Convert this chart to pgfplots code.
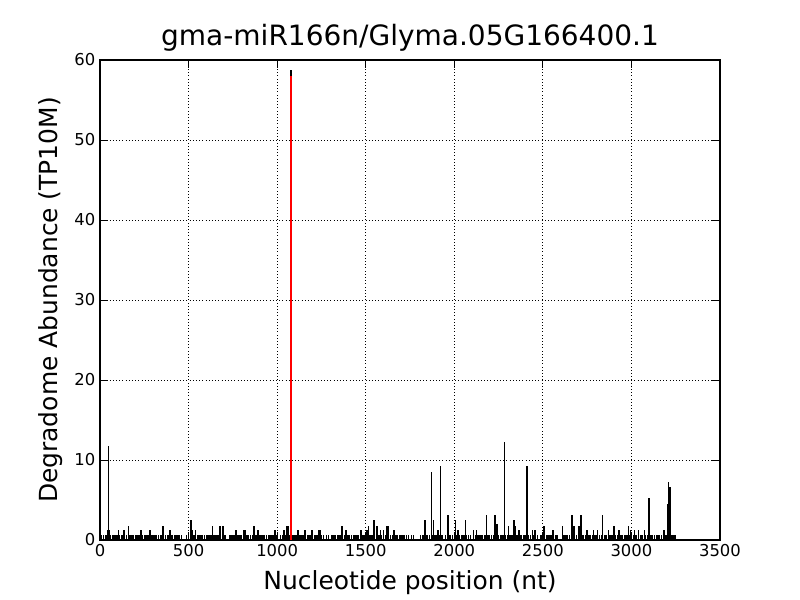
\documentclass[border=0pt]{standalone}
\usepackage{fontspec}
\setmainfont{DejaVu Sans}
\usepackage{pgfplots}
\pgfplotsset{compat=1.18}

\begin{document}
\begin{tikzpicture}
\begin{axis}[
    scale only axis,
    width=465pt, height=360pt,
    xmin=0, xmax=3500, ymin=0, ymax=60,
    xtick={0,500,...,3500}, ytick={0,10,...,60},
    /pgf/number format/assume math mode=true,
    /pgf/number format/1000 sep={},
    ticklabel style={font=\fontsize{12.3}{14}\selectfont},
    grid=major,
    grid style={dotted, black, line width=0.7pt},
    tick align=inside, tick pos=both,
    major tick length=6pt,
    tick style={black, line width=0.7pt},
    axis line style={line width=0.8pt},
    title={gma-miR166n/Glyma.05G166400.1},
    title style={font=\fontsize{21}{25}\selectfont, yshift=-3pt},
    xlabel={Nucleotide position (nt)},
    ylabel={Degradome Abundance (TP10M)},
    label style={font=\fontsize{18.7}{22}\selectfont},
    xlabel style={yshift=-3pt},
    ylabel style={yshift=2pt},
]
% baseline reads
\addplot[ycomb, black, line width=1.05pt, no marks] coordinates {
(10,0.6)(20,0.6)(30,0.6)(40,0.6)(60,0.6)(70,0.6)(80,0.6)(90,0.6)(100,0.6)(110,0.6)(120,0.6)(130,0.6)(150,0.6)(160,0.6)(170,0.6)(180,0.6)(190,0.6)(200,0.6)(210,0.6)(220,0.6)(240,0.6)(250,0.6)(260,0.6)(270,0.6)(290,0.6)(300,0.6)(310,0.6)(320,0.6)(330,0.6)(340,0.6)(350,0.6)(360,0.6)(370,0.6)(380,0.6)(390,0.6)(400,0.6)(410,0.6)(420,0.6)(430,0.6)(440,0.6)(450,0.6)(460,0.6)(490,0.6)(500,0.6)(510,0.6)(520,0.6)(530,0.6)(550,0.6)(560,0.6)(570,0.6)(580,0.6)(590,0.6)(600,0.6)(610,0.6)(620,0.6)(630,0.6)(640,0.6)(650,0.6)(660,0.6)(670,0.6)(680,0.6)(690,0.6)(700,0.6)(710,0.6)(730,0.6)(740,0.6)(750,0.6)(760,0.6)(770,0.6)(780,0.6)(790,0.6)(800,0.6)(810,0.6)(820,0.6)(830,0.6)(840,0.6)(850,0.6)(860,0.6)(880,0.6)(890,0.6)(900,0.6)(910,0.6)(920,0.6)(930,0.6)(940,0.6)(950,0.6)(960,0.6)(970,0.6)(980,0.6)(1000,0.6)(1020,0.6)(1030,0.6)(1040,0.6)(1050,0.6)(1060,0.6)(1070,0.6)(1090,0.6)(1100,0.6)(1110,0.6)(1120,0.6)(1130,0.6)(1140,0.6)(1150,0.6)(1160,0.6)(1170,0.6)(1180,0.6)(1190,0.6)(1200,0.6)(1210,0.6)(1220,0.6)(1230,0.6)(1240,0.6)(1250,0.6)(1260,0.6)(1280,0.6)(1290,0.6)(1310,0.6)(1320,0.6)(1330,0.6)(1340,0.6)(1350,0.6)(1360,0.6)(1370,0.6)(1380,0.6)(1390,0.6)(1400,0.6)(1410,0.6)(1420,0.6)(1430,0.6)(1440,0.6)(1450,0.6)(1460,0.6)(1470,0.6)(1480,0.6)(1490,0.6)(1500,0.6)(1510,0.6)(1520,0.6)(1530,0.6)(1540,0.6)(1550,0.6)(1560,0.6)(1570,0.6)(1580,0.6)(1590,0.6)(1600,0.6)(1610,0.6)(1620,0.6)(1630,0.6)(1640,0.6)(1650,0.6)(1660,0.6)(1670,0.6)(1680,0.6)(1690,0.6)(1700,0.6)(1710,0.6)(1720,0.6)(1730,0.6)(1740,0.6)(1760,0.6)(1770,0.6)(1810,0.6)(1820,0.6)(1830,0.6)(1840,0.6)(1850,0.6)(1860,0.6)(1870,0.6)(1880,0.6)(1890,0.6)(1900,0.6)(1910,0.6)(1920,0.6)(1930,0.6)(1950,0.6)(1960,0.6)(1970,0.6)(1980,0.6)(1990,0.6)(2000,0.6)(2010,0.6)(2020,0.6)(2030,0.6)(2040,0.6)(2050,0.6)(2060,0.6)(2070,0.6)(2080,0.6)(2090,0.6)(2110,0.6)(2120,0.6)(2130,0.6)(2140,0.6)(2150,0.6)(2160,0.6)(2170,0.6)(2180,0.6)(2190,0.6)(2200,0.6)(2210,0.6)(2220,0.6)(2230,0.6)(2240,0.6)(2250,0.6)(2260,0.6)(2270,0.6)(2280,0.6)(2290,0.6)(2300,0.6)(2310,0.6)(2320,0.6)(2330,0.6)(2340,0.6)(2350,0.6)(2360,0.6)(2370,0.6)(2380,0.6)(2390,0.6)(2400,0.6)(2420,0.6)(2430,0.6)(2440,0.6)(2450,0.6)(2460,0.6)(2470,0.6)(2490,0.6)(2500,0.6)(2510,0.6)(2520,0.6)(2530,0.6)(2540,0.6)(2550,0.6)(2560,0.6)(2570,0.6)(2580,0.6)(2610,0.6)(2620,0.6)(2630,0.6)(2640,0.6)(2650,0.6)(2660,0.6)(2670,0.6)(2680,0.6)(2690,0.6)(2700,0.6)(2710,0.6)(2720,0.6)(2730,0.6)(2740,0.6)(2750,0.6)(2760,0.6)(2770,0.6)(2780,0.6)(2790,0.6)(2800,0.6)(2810,0.6)(2820,0.6)(2830,0.6)(2850,0.6)(2860,0.6)(2870,0.6)(2880,0.6)(2890,0.6)(2900,0.6)(2910,0.6)(2920,0.6)(2930,0.6)(2940,0.6)(2950,0.6)(2960,0.6)(2970,0.6)(2980,0.6)(2990,0.6)(3010,0.6)(3020,0.6)(3030,0.6)(3040,0.6)(3050,0.6)(3060,0.6)(3080,0.6)(3090,0.6)(3110,0.6)(3120,0.6)(3130,0.6)(3140,0.6)(3150,0.6)(3160,0.6)(3170,0.6)(3180,0.6)(3190,0.6)(3200,0.6)(3230,0.6)(3240,0.6)(3250,0.6)
};
% taller peaks
\addplot[ycomb, black, line width=1.05pt, no marks] coordinates {
(45,1.2)(49,11.7)(55,1.2)(105,1.2)(136,1.2)(162,1.8)(232,1.2)(280,1.2)(286,1.2)(356,1.8)(395,1.2)(514,2.5)(520,1.2)(540,1.2)(634,1.8)(677,1.8)(695,1.8)(767,1.2)(813,1.2)(818,1.2)(870,1.8)(892,1.2)(988,1.2)(1038,1.2)(1055,1.8)(1063,1.8)(1078,58.7)(1118,1.2)(1157,1.2)(1196,1.2)(1236,1.2)(1246,1.2)(1366,1.8)(1389,1.2)(1474,1.2)(1507,1.2)(1517,1.8)(1547,2.5)(1564,1.8)(1585,1.2)(1600,1.2)(1620,1.8)(1628,1.8)(1660,1.2)(1835,2.5)(1872,8.5)(1881,2.5)(1908,1.2)(1923,9.2)(1965,3.1)(2008,2.5)(2020,1.2)(2064,2.5)(2110,1.2)(2125,1.2)(2183,3.1)(2230,3.1)(2242,2.0)(2283,12.3)(2305,1.8)(2337,2.5)(2347,1.8)(2365,1.2)(2410,9.2)(2440,1.2)(2455,1.2)(2507,1.8)(2558,1.2)(2612,1.8)(2665,3.1)(2675,1.8)(2705,1.8)(2716,3.1)(2750,1.2)(2785,1.2)(2810,1.2)(2838,3.1)(2870,1.2)(2902,1.8)(2930,1.2)(2985,1.8)(2995,1.2)(3018,1.2)(3040,1.2)(3074,1.2)(3099,5.2)(3183,1.2)(3205,4.5)(3210,7.2)(3218,6.6)
};
% miRNA target site
\addplot[ycomb, red, line width=2pt, no marks] coordinates {(1078,58)};
\end{axis}
\path[use as bounding box] ([xshift=-75pt,yshift=-45pt]current axis.south west) rectangle ([xshift=60pt,yshift=45pt]current axis.north east);
\end{tikzpicture}
\end{document}
